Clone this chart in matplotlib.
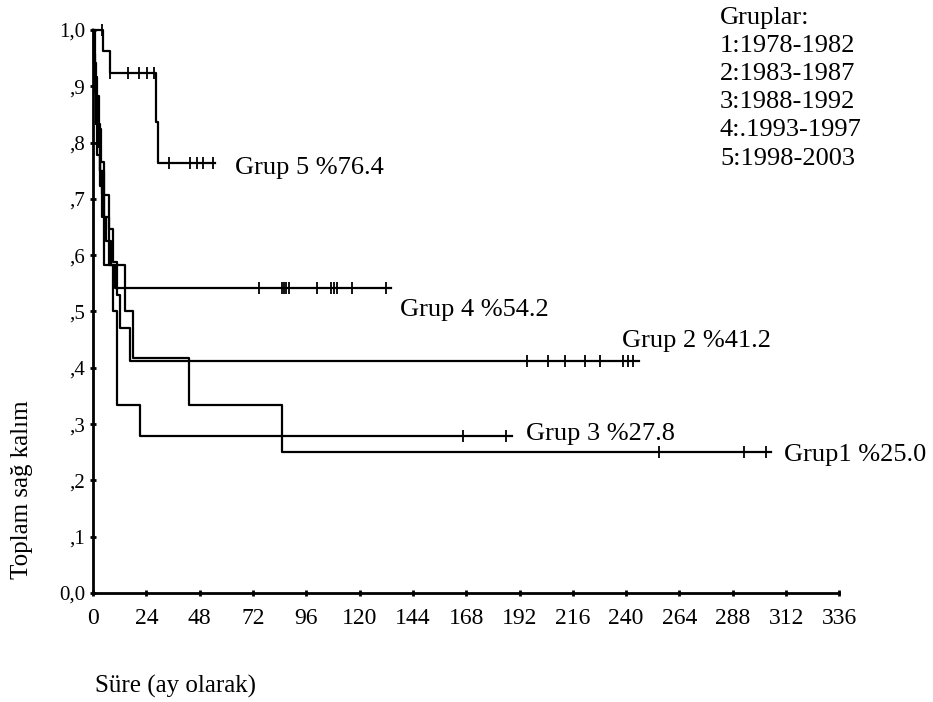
import numpy as np
import matplotlib
matplotlib.use("Agg")
import matplotlib.pyplot as plt

plt.rcParams['font.family'] = ['Liberation Serif', 'DejaVu Serif']

# Kaplan-Meier curves: event times (months) and survival after each step
g1_t = [0, 1, 2, 3, 5, 7, 14.4, 18, 43, 85, 305]
g1_s = [1.0, 0.917, 0.833, 0.75, 0.667, 0.583, 0.5, 0.417, 0.333, 0.25, 0.25]
g1_cens = [255, 293, 303]

g2_t = [0, 0.5, 1.5, 2.5, 3.5, 5, 7, 9, 11, 12, 16.7, 246]
g2_s = [1.0, 0.941, 0.882, 0.824, 0.765, 0.706, 0.647, 0.588, 0.529, 0.471, 0.412, 0.412]
g2_cens = [195.5, 205, 212.6, 221.6, 228, 238.7, 241, 243]

g3_t = [0, 0.5, 1, 1.5, 2, 3, 4, 5, 9, 10.8, 21, 188.7]
g3_s = [1.0, 0.944, 0.889, 0.833, 0.778, 0.722, 0.667, 0.583, 0.5, 0.333, 0.278, 0.278]
g3_cens = [166.7, 186]

g4_t = [0, 0.5, 1, 1.5, 2, 2.5, 3, 4, 5, 6, 8, 10, 134]
g4_s = [1.0, 0.958, 0.917, 0.875, 0.833, 0.792, 0.75, 0.708, 0.667, 0.625, 0.583, 0.542, 0.542]
g4_cens = [74.8, 85, 86, 87, 88, 101, 107, 108.5, 110, 116.7, 132]

g5_t = [0, 4.5, 7.7, 28.4, 29.3, 55]
g5_s = [1.0, 0.962, 0.923, 0.837, 0.764, 0.764]
g5_cens = [4, 7.7, 15.8, 20.7, 24.3, 27.5, 34, 43.7, 46.8, 49.5, 54]

groups = [
    (g1_t, g1_s, g1_cens, "Grup1 %25.0", (311, 0.245)),
    (g2_t, g2_s, g2_cens, "Grup 2 %41.2", (238, 0.447)),
    (g3_t, g3_s, g3_cens, "Grup 3 %27.8", (195, 0.282)),
    (g4_t, g4_s, g4_cens, "Grup 4 %54.2", (138, 0.503)),
    (g5_t, g5_s, g5_cens, "Grup 5 %76.4", (64, 0.755)),
]

x_ticks = np.arange(0, 337, 24)
y_ticks = np.arange(0, 1.01, 0.1)
y_labels = ["0,0", ",1", ",2", ",3", ",4", ",5", ",6", ",7", ",8", ",9", "1,0"]

legend_lines = ["Gruplar:", "1:1978-1982", "2:1983-1987", "3:1988-1992",
                "4:.1993-1997", "5:1998-2003"]

fig = plt.figure(figsize=(9.33, 7.02), dpi=100)
ax = fig.add_axes([0.0997, 0.1553, 0.8, 0.802])

for t, s, cens, label, pos in groups:
    ax.step(t, s, where='post', color='black', lw=1.6, clip_on=False)
    idx = np.searchsorted(t, cens, side='right') - 1
    cy = np.array(s)[idx]
    ax.plot(cens, cy, ls='none', marker='|', ms=9, mew=1.3, color='black', clip_on=False)
    ax.text(pos[0], pos[1], label, fontsize=19, va='center', ha='left')

ax.set_xlim(0, 336)
ax.set_ylim(0, 1.0)
ax.set_xticks(x_ticks)
ax.set_xticklabels([str(v) for v in x_ticks], fontsize=17)
ax.set_yticks(y_ticks)
ax.set_yticklabels(y_labels, fontsize=15)
ax.tick_params(direction='inout', length=5, width=2)
ax.tick_params(axis='x', pad=8)
ax.tick_params(axis='y', pad=3)
for side in ['top', 'right']:
    ax.spines[side].set_visible(False)
for side in ['left', 'bottom']:
    ax.spines[side].set_linewidth(2)

fig.text(22 / 933, 1 - 490 / 702, "Toplam sağ kalım", rotation=90, fontsize=18,
         ha='center', va='center')
fig.text(95 / 933, 1 - 686 / 702, "Süre (ay olarak)", fontsize=18, ha='left', va='center')
fig.text(720 / 933, 1 - 7 / 702, "\n".join(legend_lines), fontsize=19, ha='left', va='top',
         linespacing=1.36)

fig.savefig("out.png", dpi=100)
